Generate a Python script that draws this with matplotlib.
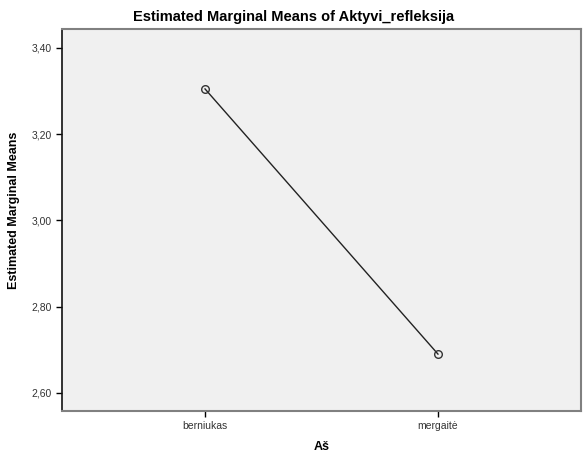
import matplotlib
matplotlib.use("Agg")
import matplotlib.pyplot as plt
from matplotlib.ticker import FuncFormatter

categories = ["berniukas", "mergaitė"]
means = [3.305, 2.690]
yticks = [2.60, 2.80, 3.00, 3.20, 3.40]

plt.rcParams['font.family'] = ['Liberation Sans', 'DejaVu Sans']

W, H = 583, 459
fig = plt.figure(figsize=(W/100, H/100), dpi=100)
ax = fig.add_axes([62/W, 1-411/H, (581-62)/W, (411-29)/H])
ax.set_facecolor('#f0f0f0')

x = list(range(len(categories)))
ax.plot(x, means, color='#222222', linewidth=1.0, marker='o', markersize=5.5,
        markerfacecolor='none', markeredgecolor='#333333', markeredgewidth=1.0)

ax.set_xlim(-0.614, 1.614)
ax.set_ylim(2.558, 3.444)
ax.set_xticks(x)
ax.set_xticklabels(categories)
ax.set_yticks(yticks)
ax.yaxis.set_major_formatter(FuncFormatter(lambda v, p: f"{v:.2f}".replace('.', ',')))
ax.tick_params(axis='both', direction='out', length=4, width=1, colors='black',
               labelsize=7.5, labelcolor='#333333')

for s in ['top', 'right', 'bottom']:
    ax.spines[s].set_color('#808080')
    ax.spines[s].set_linewidth(1.5)
ax.spines['left'].set_color('#111111')
ax.spines['left'].set_linewidth(1.2)

fig.text(293.5/W, 1-16.5/H, "Estimated Marginal Means of Aktyvi_refleksija",
         fontsize=10.5, fontweight='bold', ha='center', va='center')
ax.set_ylabel("Estimated Marginal Means", fontsize=9, fontweight='bold')
ax.yaxis.set_label_coords(-(62-20)/(581-62), (411-210)/(411-29))
ax.set_xlabel("Aš", fontsize=9, fontweight='bold', labelpad=7)

fig.savefig("out.png", dpi=100, facecolor='white')
